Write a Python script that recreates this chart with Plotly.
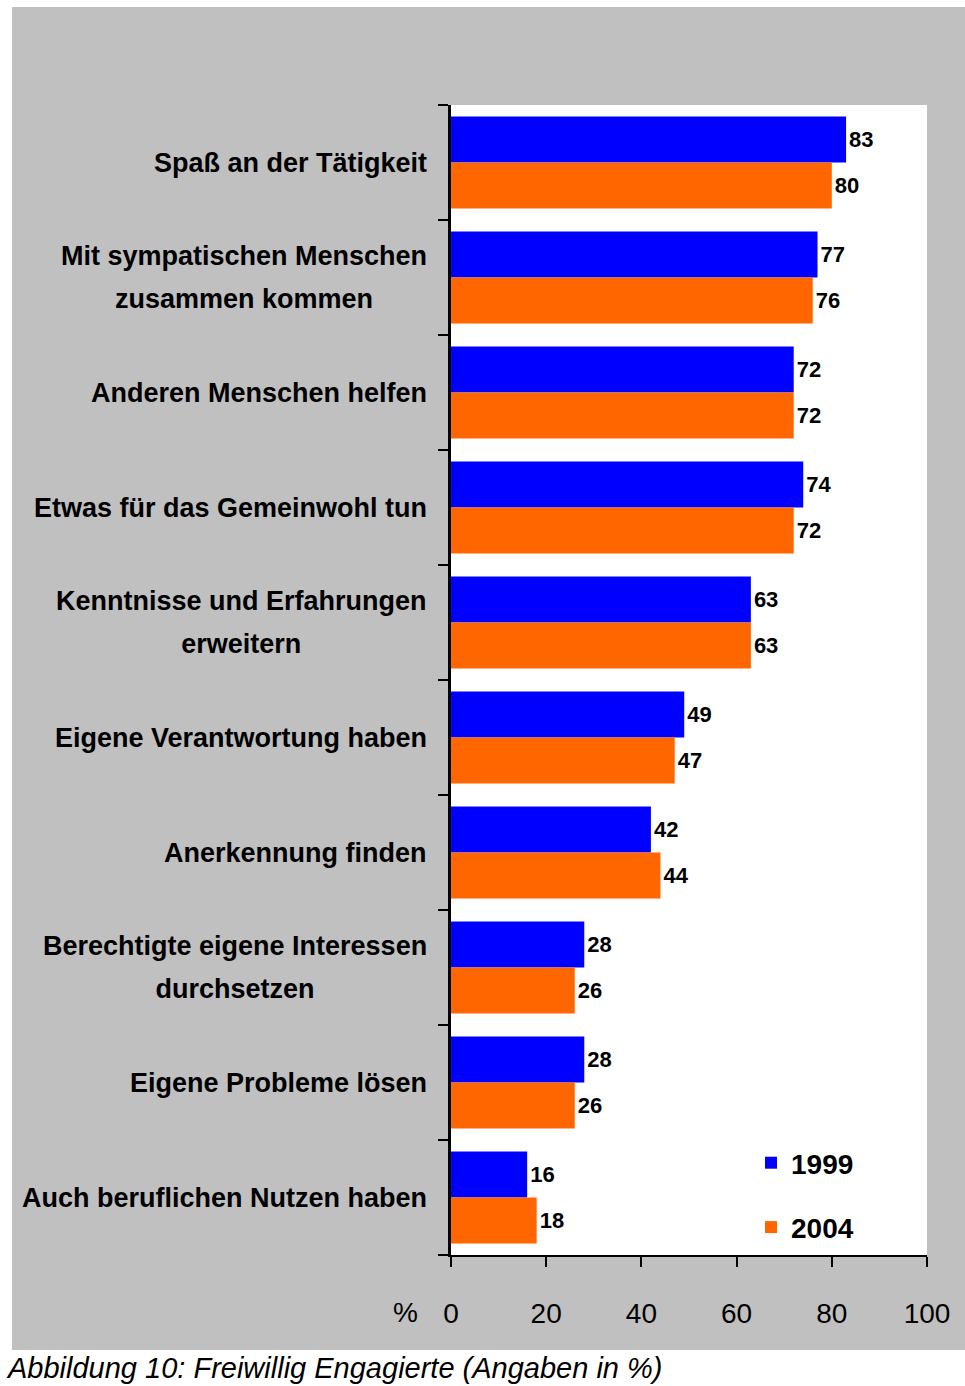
import plotly.graph_objects as go

categories = [
    "Spaß an der Tätigkeit",
    "Mit sympatischen Menschen\nzusammen kommen",
    "Anderen Menschen helfen",
    "Etwas für das Gemeinwohl tun",
    "Kenntnisse und Erfahrungen\nerweitern",
    "Eigene Verantwortung haben",
    "Anerkennung finden",
    "Berechtigte eigene Interessen\ndurchsetzen",
    "Eigene Probleme lösen",
    "Auch beruflichen Nutzen haben",
]
values_1999 = [83, 77, 72, 74, 63, 49, 42, 28, 28, 16]
values_2004 = [80, 76, 72, 72, 63, 47, 44, 26, 26, 18]
series_names = ["1999", "2004"]
x_ticks = [0, 20, 40, 60, 80, 100]
caption = "Abbildung 10: Freiwillig Engagierte (Angaben in %)"

W, H = 965, 1386
L, R, T, B = 451, 38, 105, 131
PW = W - L - R
PH = H - T - B

def px_x(p):
    return (p - L) / PW

def px_y(p):
    return (H - B - p) / PH

ids = list(range(len(categories)))
tick_font = dict(family="Liberation Sans Narrow, Arial Narrow, Liberation Sans, Arial, sans-serif", size=28, color="black")

fig = go.Figure()
for name, vals, col, grp in [(series_names[0], values_1999, "#0000FF", "a"),
                             (series_names[1], values_2004, "#FF6600", "b")]:
    fig.add_trace(go.Bar(
        y=ids, x=vals, orientation="h", name=name, marker=dict(color=col, line=dict(width=0)),
        text=[str(v) for v in vals], textposition="outside",
        textfont=dict(family="Liberation Sans, Arial, sans-serif", size=22, color="black", weight="bold"),
        cliponaxis=False, legendgroup=grp, hoverinfo="skip",
    ))

shapes = [
    dict(type="rect", xref="paper", yref="paper", x0=px_x(12), x1=px_x(965), y0=px_y(1350), y1=px_y(7),
         fillcolor="#C0C0C0", line=dict(width=0), layer="below"),
    dict(type="rect", xref="paper", yref="paper", x0=0, x1=1, y0=0, y1=1,
         fillcolor="white", line=dict(width=0), layer="below"),
]

annotations = []
for i, c in enumerate(categories):
    txt = "<br>".join(f'<span style="font-size:27px">{ln}</span>' for ln in c.split("\n"))
    annotations.append(dict(
        x=px_x(429), xref="paper", y=i, yref="y", text=txt, showarrow=False,
        xanchor="right", yanchor="middle", align="center",
        font=dict(family="Liberation Sans, Arial, sans-serif", size=33, color="black", weight="bold"),
    ))
annotations.append(dict(x=px_x(405), xref="paper", y=px_y(1312), yref="paper", text="%",
                        showarrow=False, xanchor="center", yanchor="middle", font=tick_font))
annotations.append(dict(x=px_x(4), xref="paper", y=px_y(1368), yref="paper", text=caption,
                        showarrow=False, xanchor="left", yanchor="middle",
                        font=dict(family="Liberation Sans, Arial, sans-serif", size=29, color="black", style="italic")))

fig.update_layout(
    width=W, height=H, margin=dict(l=L, r=R, t=T, b=B, pad=0),
    paper_bgcolor="white", plot_bgcolor="white",
    barmode="group", bargap=0.2, bargroupgap=0,
    shapes=shapes, annotations=annotations,
    showlegend=True,
    legend=dict(x=px_x(751), y=px_y(1138), xanchor="left", yanchor="top",
                bgcolor="rgba(0,0,0,0)", traceorder="grouped", tracegroupgap=25,
                font=dict(family="Liberation Sans, Arial, sans-serif", size=28, color="black", weight="bold"),
                itemwidth=30),
    xaxis=dict(range=[0, 100], tickvals=x_ticks, ticktext=[str(t) for t in x_ticks],
               showgrid=False, zeroline=False, showline=True, linecolor="black", linewidth=2,
               ticks="outside", ticklen=10, tickwidth=2, tickcolor="black",
               tickfont=tick_font, ticklabelstandoff=22, fixedrange=True),
    yaxis=dict(type="linear", range=[len(categories) - 0.5, -0.5], autorange=False,
               tickvals=[i - 0.5 for i in range(len(categories) + 1)], showticklabels=False,
               showgrid=False, zeroline=False, showline=True, linecolor="black", linewidth=3,
               ticks="outside", ticklen=10, tickwidth=2, tickcolor="black", fixedrange=True),
)

fig.write_html("out.html", config={"displayModeBar": False},
               post_script="document.body.style.margin='0';document.body.style.padding='0';")
